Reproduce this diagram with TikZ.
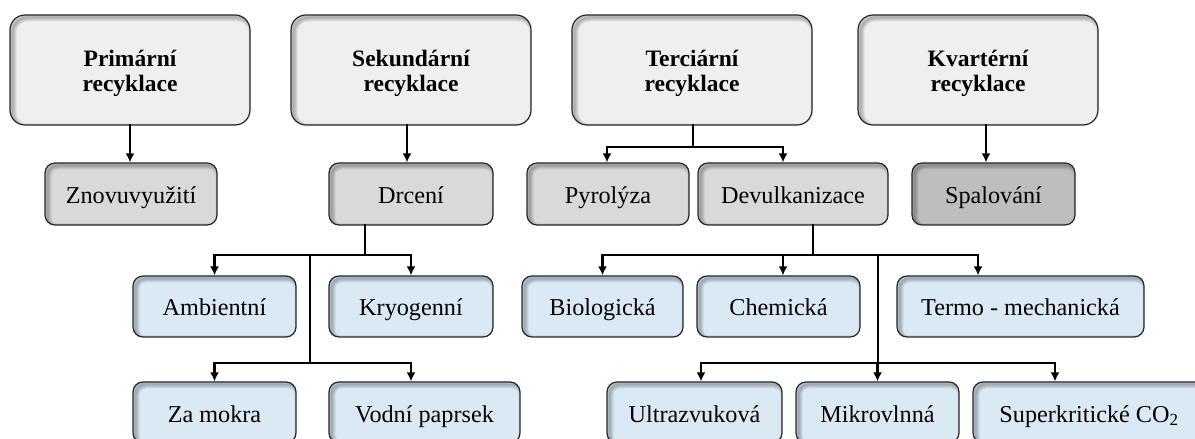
\documentclass[tikz,border=0pt]{standalone}
\usepackage{fontspec}
\setmainfont{Liberation Serif}
\usepackage{tikz}
\usetikzlibrary{arrows.meta,calc}
\definecolor{topgray}{HTML}{EFEFEF}
\definecolor{midgray}{HTML}{D9D9D9}
\definecolor{darkgray}{HTML}{BEBEBE}
\definecolor{leafblue}{HTML}{DAE9F4}
\tikzset{
  inshadow/.style={path picture={
    \foreach \k in {1,...,4}
      \draw[black,opacity=0.07,line width=2*\k bp,rounded corners=#1]
        ([shift={(2.5bp,-2.5bp)}]path picture bounding box.north west) rectangle
        ([shift={(2.5bp,-2.5bp)}]path picture bounding box.south east);}},
  topbox/.style={draw=black!85,line width=1.2bp,rounded corners=15bp,fill=topgray,inshadow=15bp,
    minimum width=240bp,minimum height=110bp,align=center,text height=45bp,text depth=1bp,
    font=\bfseries\fontsize{23.6}{26}\selectfont},
  midbox/.style={draw=black!85,line width=1.2bp,rounded corners=10bp,fill=midgray,inshadow=10bp,
    minimum height=62bp,text height=20bp,text depth=1bp,
    font=\fontsize{24.3}{27}\selectfont},
  leafbox/.style={midbox,fill=leafblue,minimum height=61bp},
  link/.style={line width=2.7bp,line cap=rect}
}
\begin{document}
\begin{tikzpicture}[>={Latex[length=9bp,width=9bp]},line join=miter]
  \useasboundingbox (0bp,0bp) rectangle (1195bp,439bp);
%%
  % Node: prim
  \node[topbox] (prim) at (130bp,369bp) {Primární\\recyklace};
  % Node: sek
  \node[topbox] (sek) at (411bp,369bp) {Sekundární\\recyklace};
  % Node: ter
  \node[topbox] (ter) at (692bp,369bp) {Terciární\\recyklace};
  % Node: kva
  \node[topbox] (kva) at (978bp,369bp) {Kvartérní\\recyklace};
  % Node: znov
  \node[midbox,minimum width=172bp] (znov) at (131bp,245bp) {Znovuvyužití};
  % Node: drc
  \node[midbox,minimum width=164bp] (drc) at (411bp,245bp) {Drcení};
  % Node: pyr
  \node[midbox,minimum width=162bp] (pyr) at (608bp,245bp) {Pyrolýza};
  % Node: dev
  \node[midbox,minimum width=190bp] (dev) at (793bp,245bp) {Devulkanizace};
  % Node: spal
  \node[midbox,fill=darkgray,minimum width=163bp] (spal) at (993.5bp,245bp) {Spalování};
  % Node: amb
  \node[leafbox,minimum width=163bp] (amb) at (214.5bp,132.5bp) {Ambientní};
  % Node: kryo
  \node[leafbox,minimum width=164bp] (kryo) at (411bp,132.5bp) {Kryogenní};
  % Node: bio
  \node[leafbox,minimum width=161bp] (bio) at (602.5bp,132.5bp) {Biologická};
  % Node: chem
  \node[leafbox,minimum width=163bp] (chem) at (778.5bp,132.5bp) {Chemická};
  % Node: termo
  \node[leafbox,minimum width=247bp] (termo) at (1020.5bp,132.5bp) {Termo - mechanická};
  % Node: mokra
  \node[leafbox,minimum width=163bp] (mokra) at (214.5bp,26.5bp) {Za mokra};
  % Node: vodni
  \node[leafbox,minimum width=191bp] (vodni) at (424.5bp,26.5bp) {Vodní paprsek};
  % Node: ultra
  \node[leafbox,minimum width=175bp] (ultra) at (694.5bp,26.5bp) {Ultrazvuková};
  % Node: mikro
  \node[leafbox,minimum width=163bp] (mikro) at (877.5bp,26.5bp) {Mikrovlnná};
  % Node: superk
  \node[leafbox,minimum width=232bp] (superk) at (1089bp,26.5bp) {Superkritické CO\textsubscript{2}};
%%
  % junctions
  \coordinate (terj) at (693bp,292bp);
  \coordinate (drcj) at (365bp,184bp);
  \coordinate (drcs) at (310bp,184bp);
  \coordinate (drck) at (310bp,76bp);
  \coordinate (devj) at (813bp,184bp);
  \coordinate (devs) at (878bp,184bp);
  \coordinate (devk) at (878bp,76bp);
  % Edge: prim -> znov
  \draw[link,->] (prim.south) -- (prim.south |- znov.north);
  % Edge: sek -> drc
  \draw[link,->] ([xshift=-4bp]sek.south) -- ([xshift=-4bp]drc.north);
  % Edge: ter -> pyr, dev
  \draw[link] (ter.south -| terj) -- (terj);
  \draw[link,->] (terj) -| ([xshift=-1bp]pyr.north);
  \draw[link,->] (terj) -| ([xshift=-10bp]dev.north);
  % Edge: kva -> spal
  \draw[link,->] ([xshift=8bp]kva.south) -- ([xshift=8bp]kva.south |- spal.north);
  % Edge: drc -> amb, kryo, mokra, vodni
  \draw[link] (drc.south -| drcj) -- (drcj);
  \draw[link,->] (drcj) -| (amb.north);
  \draw[link,->] (drcj) -| (kryo.north);
  \draw[link] (drcs) -- (drck);
  \draw[link,->] (drck) -| (mokra.north);
  \draw[link,->] (drck) -| ([xshift=-13.5bp]vodni.north);
  % Edge: dev -> bio, chem, termo, ultra, mikro, superk
  \draw[link] (dev.south -| devj) -- (devj);
  \draw[link,->] (devj) -| (bio.north);
  \draw[link,->] (devj) -| ([xshift=4.5bp]chem.north);
  \draw[link,->] (devj) -| ([xshift=-42.5bp]termo.north);
  \draw[link] (devs) -- (devk);
  \draw[link,->] (devk) -| ([xshift=6.5bp]ultra.north);
  \draw[link,->] (devk) -| (mikro.north);
  \draw[link,->] (devk) -| ([xshift=-34bp]superk.north);
%
\end{tikzpicture}
\end{document}
